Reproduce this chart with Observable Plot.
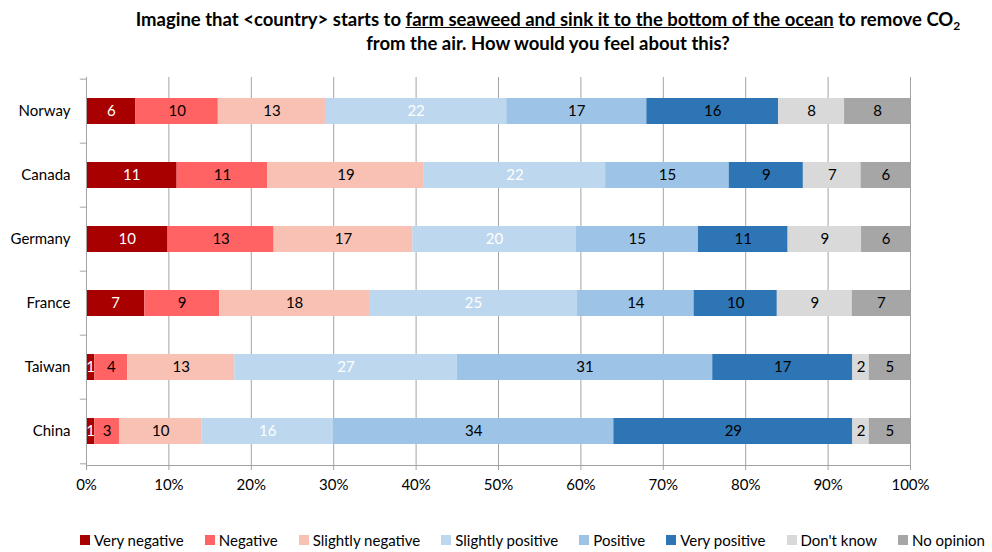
<!DOCTYPE html>
<html>
<head>
<meta charset="utf-8">
<script src="https://cdn.jsdelivr.net/npm/d3@7"></script>
<script src="https://cdn.jsdelivr.net/npm/@observablehq/plot@0.6"></script>
<style>
  body { margin: 0; background: #fff; font-family: Lato, "Open Sans", sans-serif; color: #000; }
  #title { box-sizing: border-box; width: 992px; height: 62px; padding: 7px 0 0 104px; text-align: center;
           font-weight: bold; font-size: 18.5px; line-height: 24px; white-space: nowrap; }
  #title sub { font-size: 12px; line-height: 0; vertical-align: -4px; }
  #chart svg { display: block; }
  #legend { display: flex; align-items: center; padding-left: 80px; margin-top: 23px; font-size: 15px;
            line-height: 20px; white-space: nowrap; width: 992px; box-sizing: border-box; }
  #legend .item { display: flex; align-items: center; margin-right: 21px; flex: none; }
  #legend .sw { width: 10px; height: 10px; margin-right: 4px; }
</style>
</head>
<body>
<div id="title">Imagine that &lt;country&gt; starts to <u>farm seaweed and sink it to the bottom of the ocean</u> to remove CO<sub>2</sub><br>from the air. How would you feel about this?</div>
<div id="chart"></div>
<div id="legend"></div>
<script>
// Survey answers, percent of respondents per country
const countries = ["Norway", "Canada", "Germany", "France", "Taiwan", "China"];
const responses = ["Very negative", "Negative", "Slightly negative", "Slightly positive",
                   "Positive", "Very positive", "Don't know", "No opinion"];
const norway  = [6, 10, 13, 22, 17, 16, 8, 8];
const canada  = [11, 11, 19, 22, 15, 9, 7, 6];
const germany = [10, 13, 17, 20, 15, 11, 9, 6];
const france  = [7, 9, 18, 25, 14, 10, 9, 7];
const taiwan  = [1, 4, 13, 27, 31, 17, 2, 5];
const china   = [1, 3, 10, 16, 34, 29, 2, 5];
const xTicks  = [0, 0.1, 0.2, 0.3, 0.4, 0.5, 0.6, 0.7, 0.8, 0.9, 1];

const colors = ["#a80000", "#ff6363", "#f8c1b3", "#bdd7ee", "#9dc3e6", "#2e75b6", "#d9d9d9", "#a6a6a6"];
const whiteLabels = new Set(["Very negative", "Slightly positive"]);

const series = [norway, canada, germany, france, taiwan, china];
const rows = countries.flatMap((country, i) =>
  responses.map((response, j) => ({country, response, value: series[i][j]})));

const grid = "#a3a3a3";
const stackOpts = {offset: "normalize", x: "value", y: "country"};

const chart = Plot.plot({
  width: 992,
  height: 445,
  marginTop: 15,
  marginBottom: 42,
  marginLeft: 86,
  marginRight: 82,
  style: {fontFamily: "Lato, 'Open Sans', sans-serif", fontSize: "15px", color: "#000", background: "#fff"},
  x: {domain: [0, 1], label: null},
  y: {domain: countries, label: null, paddingInner: 0.6, paddingOuter: 0.3},
  color: {domain: responses, range: colors},
  marks: [
    Plot.gridX(xTicks.slice(1), {stroke: grid, strokeOpacity: 1}),
    Plot.barX(rows, Plot.stackX({...stackOpts, fill: "response"})),
    Plot.text(rows, Plot.stackX({...stackOpts, text: d => whiteLabels.has(d.response) ? d.value : null, fill: "white"})),
    Plot.text(rows, Plot.stackX({...stackOpts, text: d => whiteLabels.has(d.response) ? null : d.value, fill: "black"})),
    Plot.ruleX([0], {stroke: grid}),
    Plot.frame({anchor: "bottom", stroke: grid}),
    // small ticks on the category axis between bands
    Plot.ruleY(countries, {y: d => d, x1: -0.0075, x2: 0, dy: -388 / 12, stroke: grid}),
    Plot.ruleY(countries.slice(-1), {y: d => d, x1: -0.0075, x2: 0, dy: 388 / 12, stroke: grid}),
    Plot.axisX({ticks: xTicks, tickFormat: d => Math.round(d * 100) + "%", tickSize: 5, tickPadding: 9, stroke: grid, fill: "#000"}),
    Plot.axisY({tickSize: 0, tickPadding: 16, fill: "#000"})
  ]
});
document.getElementById("chart").append(chart);

// legend row
const legend = d3.select("#legend");
responses.forEach((r, i) => {
  const item = legend.append("div").attr("class", "item");
  item.append("div").attr("class", "sw").style("background", colors[i]);
  item.append("span").text(r);
});
</script>
</body>
</html>
